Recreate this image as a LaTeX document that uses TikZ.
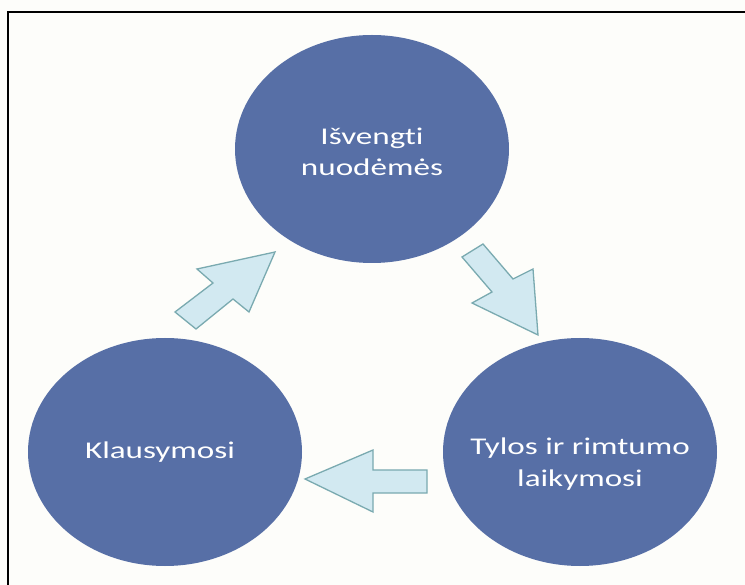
\documentclass[tikz,border=0pt]{standalone}
\usepackage{fontspec}
\setmainfont[Ligatures=NoCommon]{Carlito}
\usetikzlibrary{shapes.geometric}

\definecolor{paper}{RGB}{253,253,250}
\definecolor{discblue}{RGB}{87,111,166}
\definecolor{arrowfill}{RGB}{210,233,241}
\definecolor{arrowline}{RGB}{122,170,176}

% horizontally widened lettering
\newcommand{\widetext}[1]{\scalebox{1.38}[1]{#1}}

\begin{document}
\begin{tikzpicture}[x=1pt, y=-1pt,
  disc/.style={ellipse, fill=discblue, draw=none, inner sep=0pt,
    minimum width=274pt, minimum height=228pt},
  label/.style={text=white, align=center,
    font=\fontsize{24}{31.5}\selectfont, inner sep=0pt},
  blockarrow/.style={fill=arrowfill, draw=arrowline, line width=1.3pt,
    line join=miter}]

  % page and frame
  \fill[paper] (0,0) rectangle (745,585);
  \useasboundingbox (0,0) rectangle (745,585);
  \draw[line width=2.4pt, line join=miter] (8,585) -- (8,12) -- (745,12);

  % the three stages
  \node[disc] (top)   at (372,149) {};
  \node[disc] (left)  at (165,452) {};
  \node[disc] (right) at (580,452) {};

  % labels, placed by the baseline of their last line
  \node[label, anchor=base] (toptext) at (372,176)
    {\widetext{Išvengti}\\\widetext{nuodėmės}};
  \node[label, anchor=base] (lefttext) at (160,458)
    {\widetext{Klausymosi}};
  \node[label, anchor=base] (righttext) at (580,486)
    {\widetext{Tylos ir rimtumo}\\\widetext{laikymosi}};

  % cycle arrows
  \draw[blockarrow] (175,312) -- (213,283) -- (197,269) -- (275,252)
    -- (249,312) -- (233,299) -- (196,329) -- cycle;
  \draw[blockarrow] (462,257) -- (483,244) -- (513,279) -- (533,269)
    -- (538,335) -- (472,303) -- (492,292) -- cycle;
  \draw[blockarrow] (427,470) -- (373,470) -- (373,450) -- (305,479)
    -- (373,512) -- (373,493) -- (427,493) -- cycle;
\end{tikzpicture}
\end{document}
